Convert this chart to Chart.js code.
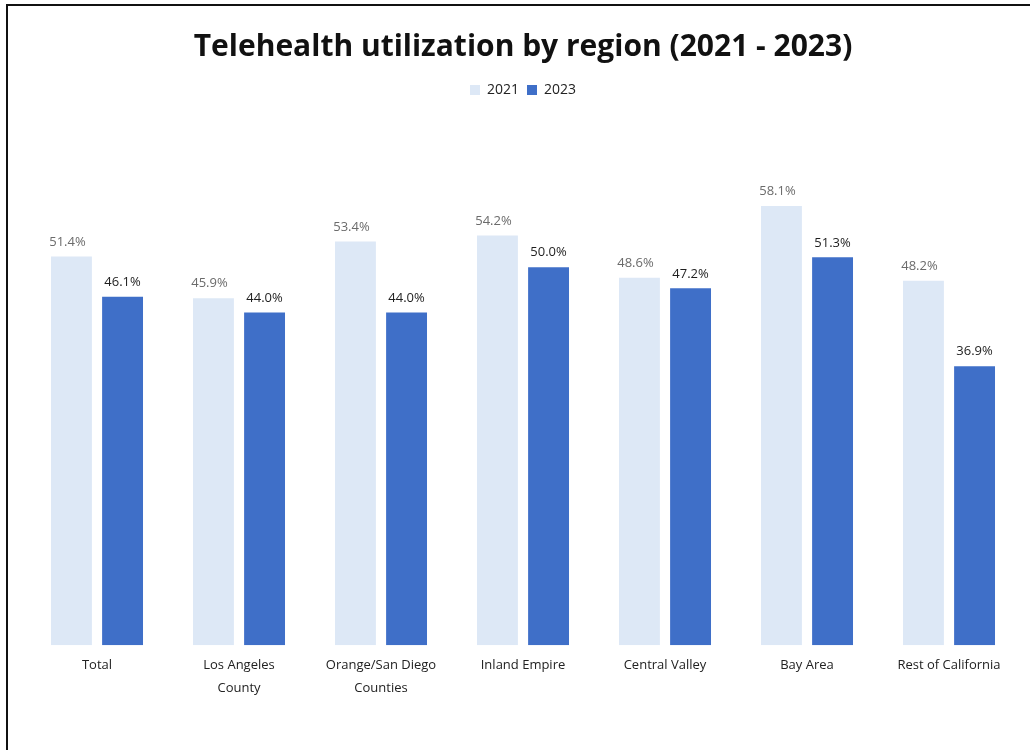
<!DOCTYPE html>
<html>
<head>
<meta charset="utf-8">
<script src="https://cdn.jsdelivr.net/npm/chart.js@4"></script>
<style>
  html, body { margin: 0; padding: 0; background: #fff; }
  #wrap { position: relative; width: 1030px; height: 750px; }
  #frame { position: absolute; left: 6px; top: 4px; right: 0; bottom: 0;
           border-left: 2px solid #111; border-top: 2px solid #111; }
  canvas { position: absolute; left: 0; top: 0; }
</style>
</head>
<body>
<div id="wrap">
  <div id="frame"></div>
  <canvas id="chart" width="1030" height="750"></canvas>
</div>
<script>
// data
const regions = [
    "Total",
    ["Los Angeles", "County"],
    ["Orange/San Diego", "Counties"],
    "Inland Empire",
    "Central Valley",
    "Bay Area",
    "Rest of California"
];
const values2021 = [51.4, 45.9, 53.4, 54.2, 48.6, 58.1, 48.2];
const values2023 = [46.1, 44.0, 44.0, 50.0, 47.2, 51.3, 36.9];

const FONT = "'Open Sans', 'Liberation Sans', sans-serif";

// percent labels above each bar
const barLabels = {
    id: "barLabels",
    afterDatasetsDraw(chart) {
        const ctx = chart.ctx;
        ctx.save();
        ctx.textAlign = "center";
        ctx.textBaseline = "bottom";
        chart.data.datasets.forEach(function (ds, i) {
            const meta = chart.getDatasetMeta(i);
            ctx.fillStyle = i === 0 ? "#6b6b6b" : "#1e1e1e";
            ctx.font = "13px " + FONT;
            meta.data.forEach(function (bar, j) {
                ctx.fillText(ds.data[j].toFixed(1) + "%", bar.x - (i === 0 ? 4 : 0), bar.y - 8);
            });
        });
        ctx.restore();
    }
};

// a bit more room under the legend
const legendGap = {
    id: "legendGap",
    beforeInit(chart) {
        const fit = chart.legend.fit;
        chart.legend.fit = function () {
            fit.bind(chart.legend)();
            this.height += 9;
        };
    }
};

const ctx = document.getElementById("chart").getContext("2d");
new Chart(ctx, {
    type: "bar",
    data: {
        labels: regions,
        datasets: [{
            label: "2021",
            data: values2021,
            backgroundColor: "#dde8f6",
            categoryPercentage: 0.72,
            barPercentage: 0.8
        }, {
            label: "2023",
            data: values2023,
            backgroundColor: "#3f6fc8",
            categoryPercentage: 0.72,
            barPercentage: 0.8
        }]
    },
    options: {
        responsive: false,
        animation: false,
        layout: { padding: { left: 26, right: 10, top: 15, bottom: 50 } },
        plugins: {
            title: {
                display: true,
                text: "Telehealth utilization by region (2021 - 2023)",
                color: "#111",
                font: { family: FONT, size: 30, weight: "bold" },
                padding: { top: 14, bottom: 10 }
            },
            legend: {
                display: true,
                labels: {
                    color: "#222",
                    font: { family: FONT, size: 14 },
                    boxWidth: 10,
                    boxHeight: 10,
                    padding: 8
                }
            },
            tooltip: { enabled: false }
        },
        scales: {
            x: {
                grid: { display: false },
                border: { display: false },
                ticks: {
                    color: "#222",
                    font: { family: FONT, size: 13, lineHeight: 1.8 },
                    padding: 0,
                    maxRotation: 0,
                    autoSkip: false
                }
            },
            y: {
                display: false,
                min: 0,
                max: 70
            }
        }
    },
    plugins: [barLabels, legendGap]
});
</script>
</body>
</html>
